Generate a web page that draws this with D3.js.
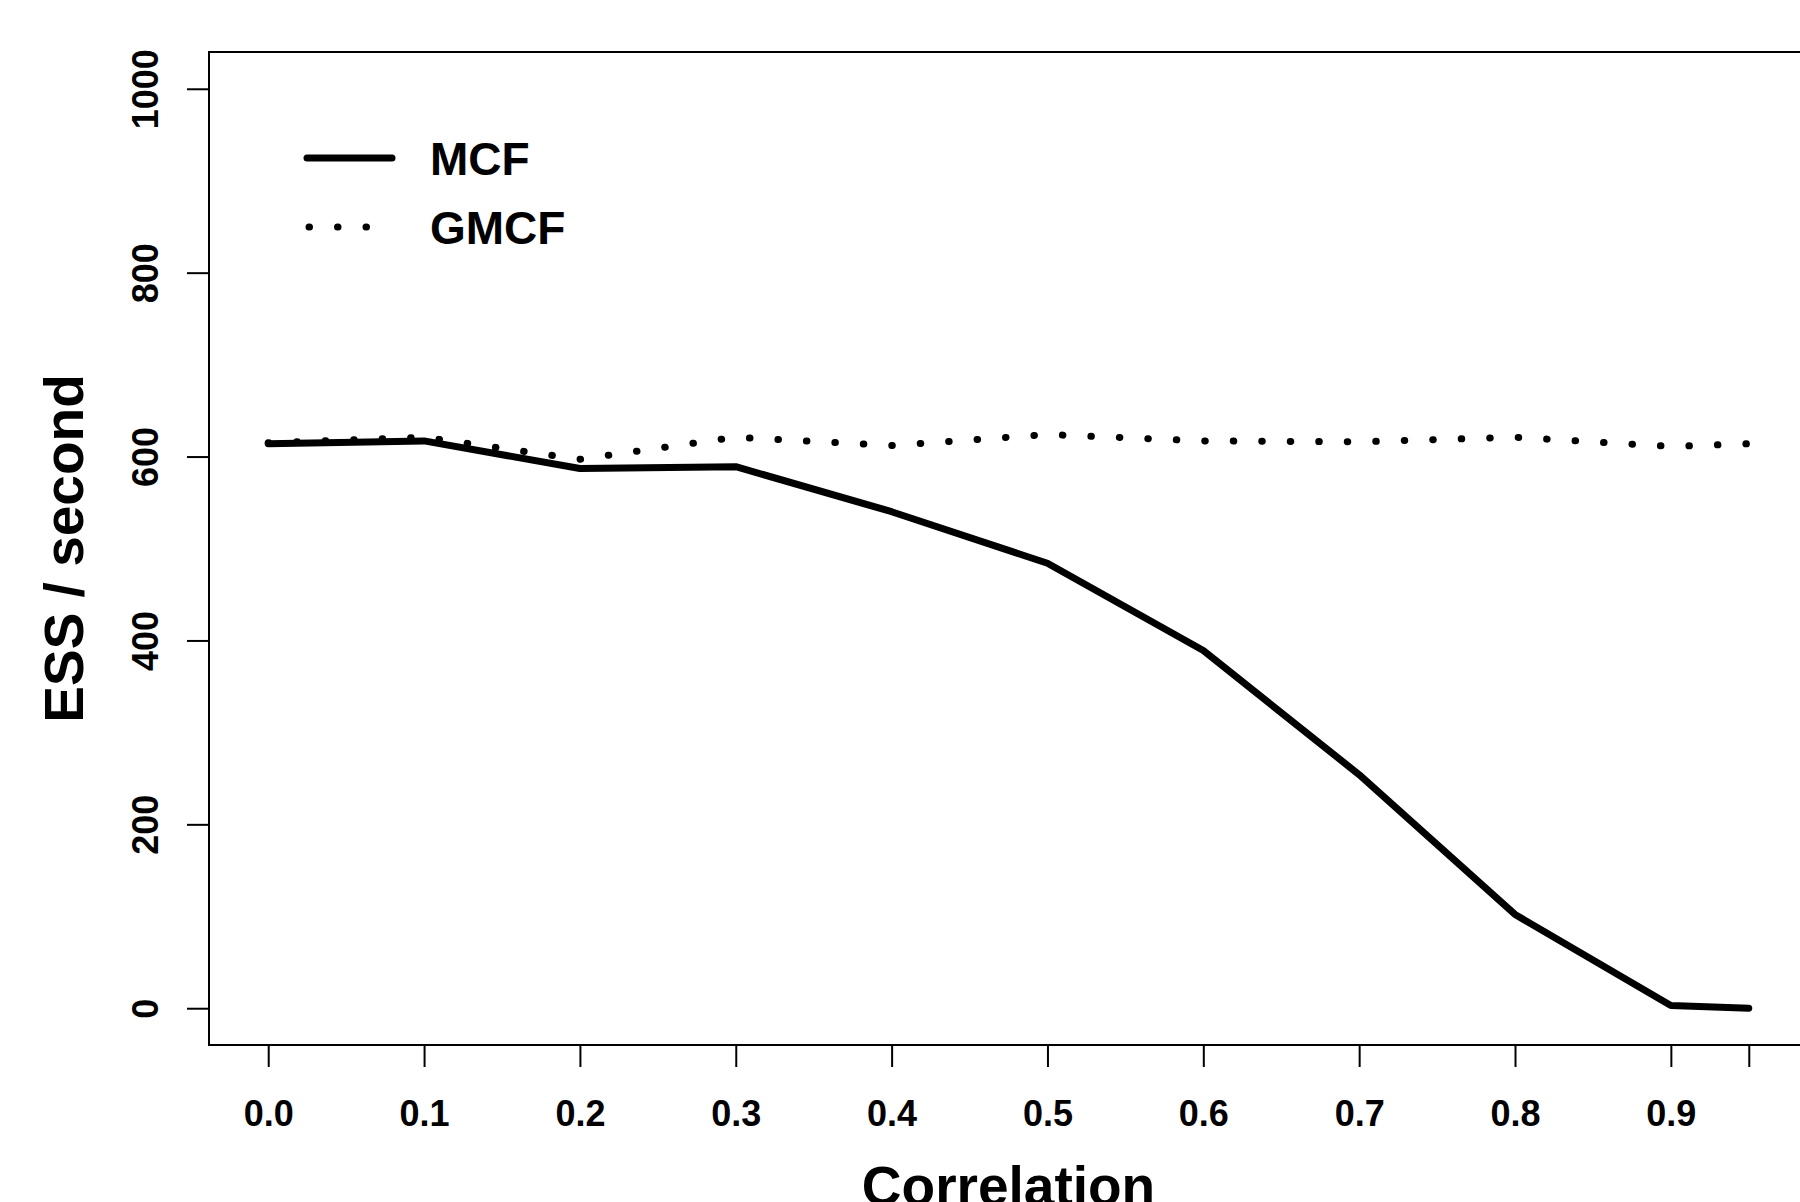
<!DOCTYPE html>
<html>
<head>
<meta charset="utf-8">
<style>
  body { margin: 0; background: #fff; }
  svg { display: block; font-family: "Liberation Sans", Arial, sans-serif; font-weight: bold; }
</style>
<script src="https://d3js.org/d3.v7.min.js"></script>
</head>
<body>
<svg width="1800" height="1202"></svg>
<script>
// correlation values on the x axis
var correlation = [0, 0.1, 0.2, 0.3, 0.4, 0.5, 0.6, 0.7, 0.8, 0.9, 0.95];
// ESS per second
var mcf  = [614, 617, 587, 589, 540, 484, 389, 254, 102, 3, 0];
var gmcf = [615, 621, 597, 621, 612, 624, 617, 616, 621, 611, 614];

var xTicks = [0, 0.1, 0.2, 0.3, 0.4, 0.5, 0.6, 0.7, 0.8, 0.9, 0.95];
var xTickLabels = ["0.0", "0.1", "0.2", "0.3", "0.4", "0.5", "0.6", "0.7", "0.8", "0.9", ""];
var yTicks = [0, 200, 400, 600, 800, 1000];

var seriesNames = ["MCF", "GMCF"];

var svg = d3.select("svg");

// plot region (R style, 4% padding on the data range)
var plotL = 209, plotR = 1808, plotT = 52, plotB = 1045;

var x = d3.scaleLinear().domain([-0.038, 0.988]).range([plotL, plotR]);
var y = d3.scaleLinear().domain([-40, 1040]).range([plotB, plotT]);

// box
svg.append("rect")
    .attr("x", plotL).attr("y", plotT)
    .attr("width", plotR - plotL).attr("height", plotB - plotT)
    .attr("fill", "none").attr("stroke", "#000").attr("stroke-width", 2);

// x axis
var xAxis = svg.append("g")
    .attr("transform", "translate(0," + plotB + ")")
    .call(d3.axisBottom(x).tickValues(xTicks).tickSize(22)
        .tickFormat(function(d, i) { return xTickLabels[i]; }));
xAxis.select(".domain").remove();
xAxis.selectAll("line").attr("stroke-width", 2);
xAxis.selectAll("text")
    .attr("y", 81).attr("dy", 0)
    .style("font-size", "36px").style("font-family", "Liberation Sans, Arial, sans-serif")
    .style("font-weight", "bold").attr("fill", "#000");

// y axis
var yAxis = svg.append("g")
    .attr("transform", "translate(" + plotL + ",0)")
    .call(d3.axisLeft(y).tickValues(yTicks).tickSize(22).tickFormat(d3.format("d")));
yAxis.select(".domain").remove();
yAxis.selectAll("line").attr("stroke-width", 2);
yAxis.selectAll("text")
    .attr("transform", "rotate(-90)")
    .attr("x", 0).attr("y", -51).attr("dy", 0)
    .attr("text-anchor", "middle")
    .style("font-size", "36px").style("font-family", "Liberation Sans, Arial, sans-serif")
    .style("font-weight", "bold").attr("fill", "#000");

// axis titles
svg.append("text")
    .attr("x", (plotL + plotR) / 2).attr("y", 1205)
    .attr("text-anchor", "middle")
    .style("font-size", "55px")
    .text("Correlation");

svg.append("text")
    .attr("transform", "translate(83," + (plotT + plotB) / 2 + ") rotate(-90)")
    .attr("text-anchor", "middle")
    .style("font-size", "55px")
    .text("ESS / second");

// lines
var line = d3.line()
    .x(function(d, i) { return x(correlation[i]); })
    .y(function(d) { return y(d); });

svg.append("path")
    .datum(gmcf)
    .attr("d", line)
    .attr("fill", "none").attr("stroke", "#000")
    .attr("stroke-width", 7)
    .attr("stroke-linecap", "round")
    .attr("stroke-dasharray", "0.5,28");

svg.append("path")
    .datum(mcf)
    .attr("d", line)
    .attr("fill", "none").attr("stroke", "#000")
    .attr("stroke-width", 7)
    .attr("stroke-linecap", "round")
    .attr("stroke-linejoin", "round");

// legend
var legend = svg.append("g");
legend.append("line")
    .attr("x1", 307).attr("x2", 392).attr("y1", 158).attr("y2", 158)
    .attr("stroke", "#000").attr("stroke-width", 7).attr("stroke-linecap", "round");
legend.append("line")
    .attr("x1", 309).attr("x2", 390).attr("y1", 227).attr("y2", 227)
    .attr("stroke", "#000").attr("stroke-width", 7).attr("stroke-linecap", "round")
    .attr("stroke-dasharray", "0.5,28");
legend.selectAll("text.leg")
    .data(seriesNames)
    .enter().append("text")
    .attr("class", "leg")
    .attr("x", 430)
    .attr("y", function(d, i) { return 175 + i * 69; })
    .style("font-size", "46px")
    .text(function(d) { return d; });
</script>
</body>
</html>
